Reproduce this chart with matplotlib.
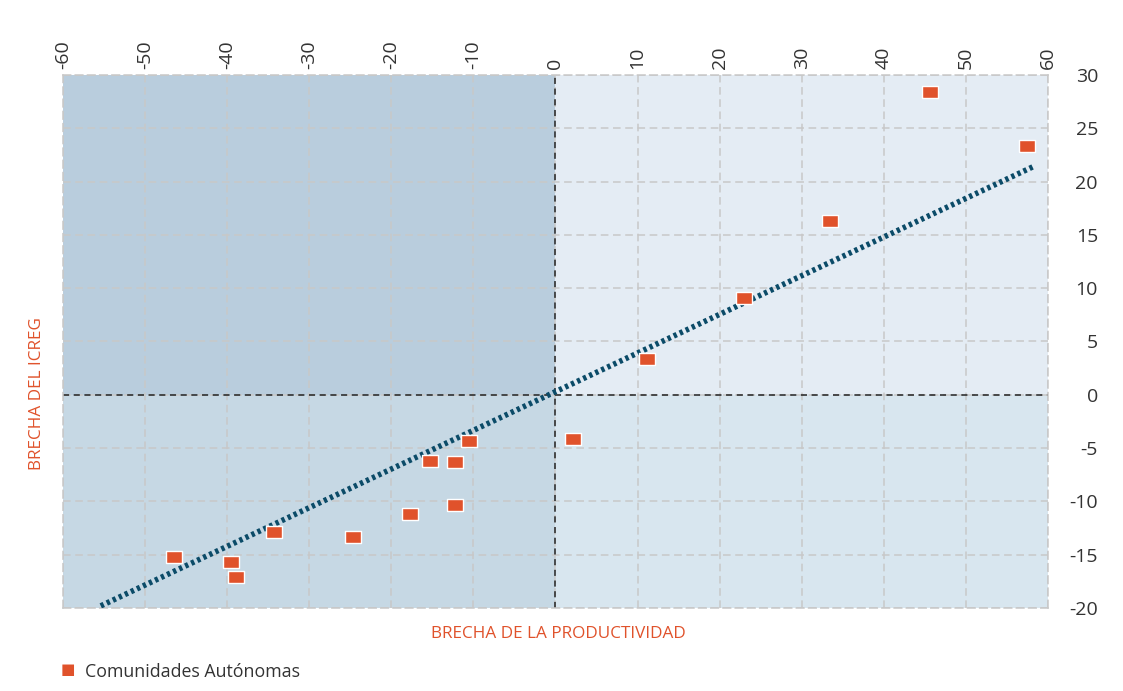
import matplotlib.pyplot as plt
import numpy as np

plt.rcParams['font.family'] = ['Open Sans', 'DejaVu Sans']
plt.rcParams['axes.unicode_minus'] = False

# brecha de la productividad (x) y brecha del ICREG (y) por comunidad
prod_gap = [45.6, 57.4, 33.5, 23.0, 11.2, 2.1, -10.5, -12.2, -15.3, -12.2,
            -17.7, -24.7, -34.3, -46.5, -39.5, -38.9]
icreg_gap = [28.4, 23.3, 16.3, 9.1, 3.4, -4.1, -4.3, -6.3, -6.2, -10.3,
             -11.2, -13.3, -12.9, -15.2, -15.7, -17.1]
# trend line end points
trend_x = [-55.4, 58.2]
trend_y = [-19.8, 21.4]

xticks = list(range(-60, 61, 10))
yticks = list(range(-20, 31, 5))

orange = '#e0522b'
fig = plt.figure(figsize=(11.23, 6.91), dpi=100)
ax = fig.add_axes([0.0561, 0.1201, 0.8771, 0.7714])
ax.set_xlim(-60, 60)
ax.set_ylim(-20, 30)

# quadrant shading
ax.fill_between([-60, 0], 0, 30, color='#b9cddd', zorder=0, lw=0)
ax.fill_between([-60, 0], -20, 0, color='#c6d8e4', zorder=0, lw=0)
ax.fill_between([0, 60], 0, 30, color='#e4ecf4', zorder=0, lw=0)
ax.fill_between([0, 60], -20, 0, color='#d8e6ef', zorder=0, lw=0)

ax.set_xticks(xticks)
ax.set_yticks(yticks)
ax.grid(True, color='#c8c8c8', linestyle=(0, (5, 3)), linewidth=1.1, zorder=1)
for s in ax.spines.values():
    s.set_color('#c8c8c8')
    s.set_linestyle((0, (5, 3)))
    s.set_linewidth(1.1)
ax.axhline(0, color='#222222', linestyle=(0, (4, 3)), lw=1.1, zorder=2)
ax.axvline(0, color='#222222', linestyle=(0, (4, 3)), lw=1.1, zorder=2)

ax.plot(trend_x, trend_y, color='#0b4b68', lw=4, linestyle=(0, (0.6, 0.6)),
        zorder=3, solid_capstyle='butt', dash_capstyle='butt')

rect = [(-1.3, -1), (1.3, -1), (1.3, 1), (-1.3, 1), (-1.3, -1)]
ax.scatter(prod_gap, icreg_gap, marker=rect, s=135, color=orange,
           edgecolor='white', linewidth=1, zorder=4)

ax.xaxis.tick_top()
ax.yaxis.tick_right()
ax.tick_params(axis='both', length=0, labelsize=14, colors='#333333')
ax.tick_params(axis='x', pad=4, labelrotation=90)
ax.tick_params(axis='y', pad=36)
for lab in ax.get_yticklabels():
    lab.set_horizontalalignment('right')

fig.text(0.497, 0.083, 'BRECHA DE LA PRODUCTIVIDAD', color=orange,
         fontsize=12.3, ha='center', va='center')
fig.text(0.033, 0.43, 'BRECHA DEL ICREG', color=orange, fontsize=12.3,
         rotation=90, ha='center', va='center')

# legend
fig.text(0.0605, 0.029, '\u25a0', color=orange, fontsize=11, ha='center', va='center')
fig.text(0.076, 0.027, 'Comunidades Autónomas', color='#333333', fontsize=12.8,
         ha='left', va='center')

fig.savefig('out.png', dpi=100)
